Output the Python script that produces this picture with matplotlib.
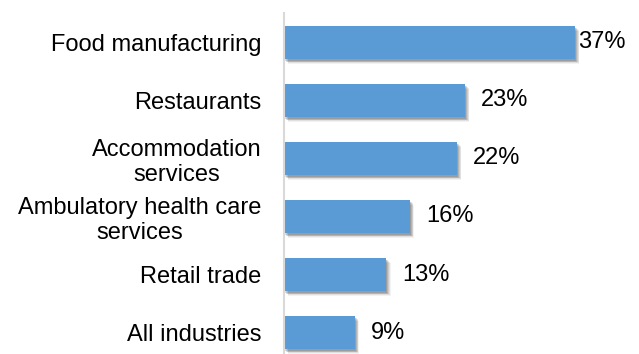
import matplotlib
matplotlib.use("Agg")
import matplotlib.pyplot as plt
import matplotlib.patheffects as pe

categories = [
    "Food manufacturing",
    "Restaurants",
    "Accommodation\nservices",
    "Ambulatory health care\nservices",
    "Retail trade",
    "All industries",
]
values = [37, 23, 22, 16, 13, 9]
value_labels = ["37%", "23%", "22%", "16%", "13%", "9%"]

plt.rcParams["font.family"] = ["Liberation Sans", "DejaVu Sans"]

fig = plt.figure(figsize=(6.39, 3.54), dpi=100)
ax = fig.add_axes([0.4444, -0.0212, 0.554, 0.9831])

bar_color = "#5B9BD5"
ypos = list(range(len(categories)))

# soft drop shadow built from a few stacked, offset translucent copies
shadow = [
    pe.SimplePatchShadow(offset=(3.2, -3.8), shadow_rgbFace="black", alpha=0.05),
    pe.SimplePatchShadow(offset=(2.6, -3.0), shadow_rgbFace="black", alpha=0.07),
    pe.SimplePatchShadow(offset=(2.0, -2.4), shadow_rgbFace="black", alpha=0.09),
    pe.SimplePatchShadow(offset=(1.4, -1.8), shadow_rgbFace="black", alpha=0.11),
    pe.SimplePatchShadow(offset=(0.8, -1.2), shadow_rgbFace="black", alpha=0.13),
    pe.Normal(),
]

bars = ax.barh(ypos, values, height=0.57, color=bar_color, zorder=3)
for b in bars:
    b.set_path_effects(shadow)

ax.set_ylim(len(categories) - 0.5, -0.5)
ax.set_xlim(0, 45)

ax.set_yticks(ypos)
ax.set_yticklabels(categories, fontsize=17)
for t in ax.get_yticklabels():
    t.set_multialignment("center")
ax.tick_params(axis="y", length=0, pad=16)
ax.set_xticks([])

for s in ["top", "right", "bottom"]:
    ax.spines[s].set_visible(False)
ax.spines["left"].set_color("#D9D9D9")
ax.spines["left"].set_linewidth(1.5)
ax.spines["left"].set_zorder(4)

vmax = max(values)
for y, v, lab in zip(ypos, values, value_labels):
    pad = 2 if v == vmax else 11.5
    ax.annotate(lab, xy=(v, y), xytext=(pad, 0), textcoords="offset points",
                ha="left", va="center", fontsize=17, color="black")

fig.savefig("out.png", dpi=100)
